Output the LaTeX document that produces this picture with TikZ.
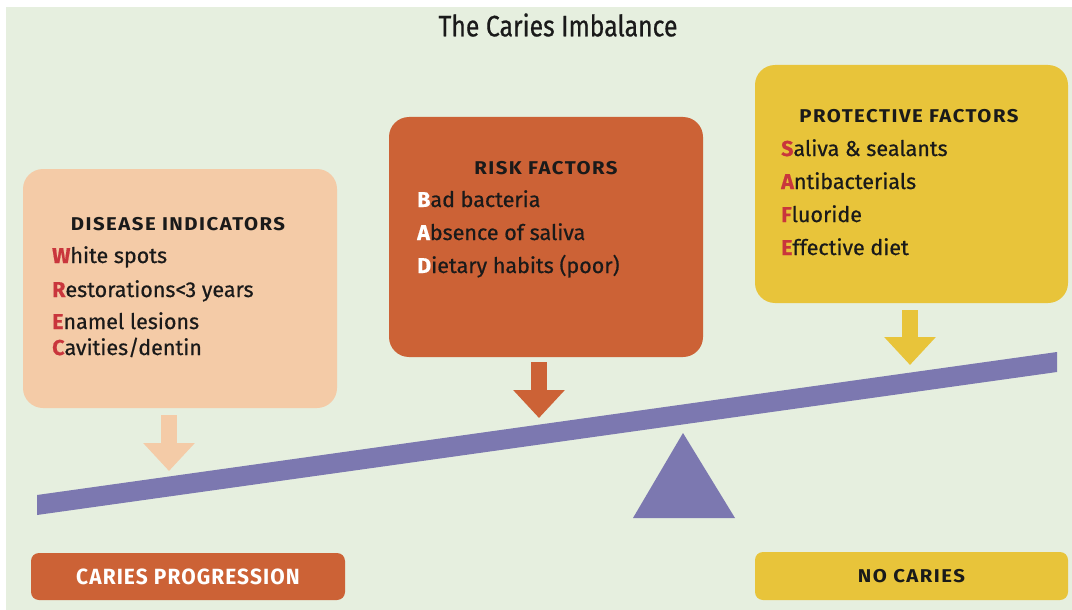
\documentclass[tikz,border=0pt]{standalone}
\usepackage{fontspec}
\setmainfont{Fira Sans}[FakeBold=0.6]
\newfontfamily\titlefont[FakeStretch=0.84,FakeBold=0.6]{Fira Sans}
\newfontfamily\hdrfont[FakeStretch=1.1,LetterSpace=8]{Fira Sans}
\newfontfamily\lblfont[FakeStretch=0.95,LetterSpace=5]{Fira Sans}
\usetikzlibrary{arrows.meta}
\definecolor{bgc}{HTML}{E6EFDF}
\definecolor{peach}{HTML}{F4CBA7}
\definecolor{burnt}{HTML}{CC6236}
\definecolor{gold}{HTML}{E8C43A}
\definecolor{beamc}{HTML}{7C78B0}
\definecolor{letred}{HTML}{C9363C}
\definecolor{ink}{HTML}{1A1A1A}
\newcommand{\rl}[1]{\textcolor{letred}{\bfseries #1}}
\newcommand{\wl}[1]{\textcolor{white}{\bfseries #1}}
\tikzset{
  panel/.style={rounded corners=20pt, inner sep=0pt},
  tag/.style={rounded corners=8pt, inner sep=0pt},
  hdr/.style={anchor=base, inner sep=0pt, text=ink, font=\hdrfont\bfseries\fontsize{18.5}{22}\selectfont},
  item/.style={anchor=base west, inner sep=0pt, text=ink, font=\fontsize{21.5}{25}\selectfont},
  barrow/.style={draw=#1, line width=16pt, -{Triangle[length=28pt,width=50pt]}},
}
\begin{document}
\begin{tikzpicture}[x=1pt,y=-1pt]
\useasboundingbox (0,0) rectangle (1072,610);
\fill[bgc] (6,7) rectangle (1072,610);

% title
\node[inner sep=0pt, text=ink, font=\titlefont\fontsize{29.5}{32}\selectfont] (title) at (558,25) {The Caries Imbalance};

% panels
\node[panel, fill=peach, minimum width=314pt, minimum height=239pt] (dis) at (180,288.5) {};
\node[panel, fill=burnt, minimum width=314pt, minimum height=240pt] (risk) at (546,237) {};
\node[panel, fill=gold, minimum width=313pt, minimum height=238pt] (prot) at (911.5,184) {};

% disease indicators
\node[hdr] (dish) at (178,230) {DISEASE INDICATORS};
\node[item] (d1) at (52,263) {\rl{W}hite spots};
\node[item] (d2) at (52,297) {\rl{R}estorations<3 years};
\node[item] (d3) at (52,329) {\rl{E}namel lesions};
\node[item] (d4) at (52,355) {\rl{C}avities/dentin};

% risk factors
\node[hdr] (riskh) at (546,174) {RISK FACTORS};
\node[item] (r1) at (417,207) {\wl{B}ad bacteria};
\node[item] (r2) at (417,240) {\wl{A}bsence of saliva};
\node[item] (r3) at (417,273) {\wl{D}ietary habits (poor)};

% protective factors
\node[hdr] (proth) at (909,123) {PROTECTIVE FACTORS};
\node[item] (p1) at (781,156) {\rl{S}aliva \& sealants};
\node[item] (p2) at (781,189) {\rl{A}ntibacterials};
\node[item] (p3) at (781,222) {\rl{F}luoride};
\node[item] (p4) at (781,255) {\rl{E}ffective diet};

% beam and fulcrum
\coordinate (bl1) at (37,495);
\coordinate (bl2) at (37,515);
\coordinate (br1) at (1057,352);
\coordinate (br2) at (1057,372);
\fill[beamc] (bl1) -- (br1) -- (br2) -- (bl2) -- cycle;
\coordinate (apex) at (683,433);
\coordinate (fl) at (633,518);
\coordinate (fr) at (735,518);
\fill[beamc] (apex) -- (fr) -- (fl) -- cycle;

% arrows
\coordinate (t1) at (169,471);
\coordinate (t2) at (539,418);
\coordinate (t3) at (910,365);
\draw[barrow=peach] ([yshift=-7pt]dis.south -| t1) -- (t1);
\draw[barrow=burnt] ([yshift=-5pt]risk.south -| t2) -- (t2);
\draw[barrow=gold] ([yshift=-7pt]prot.south -| t3) -- (t3);

% outcome tags
\node[tag, fill=burnt, minimum width=314pt, minimum height=47pt, text=white,
      font=\lblfont\bfseries\fontsize{22}{24}\selectfont] (prog) at (188,576.5) {CARIES PROGRESSION};
\node[tag, fill=gold, minimum width=313pt, minimum height=48pt, text=ink,
      font=\hdrfont\bfseries\fontsize{18.5}{22}\selectfont] (noc) at (911.5,576) {NO CARIES};
\end{tikzpicture}
\end{document}
